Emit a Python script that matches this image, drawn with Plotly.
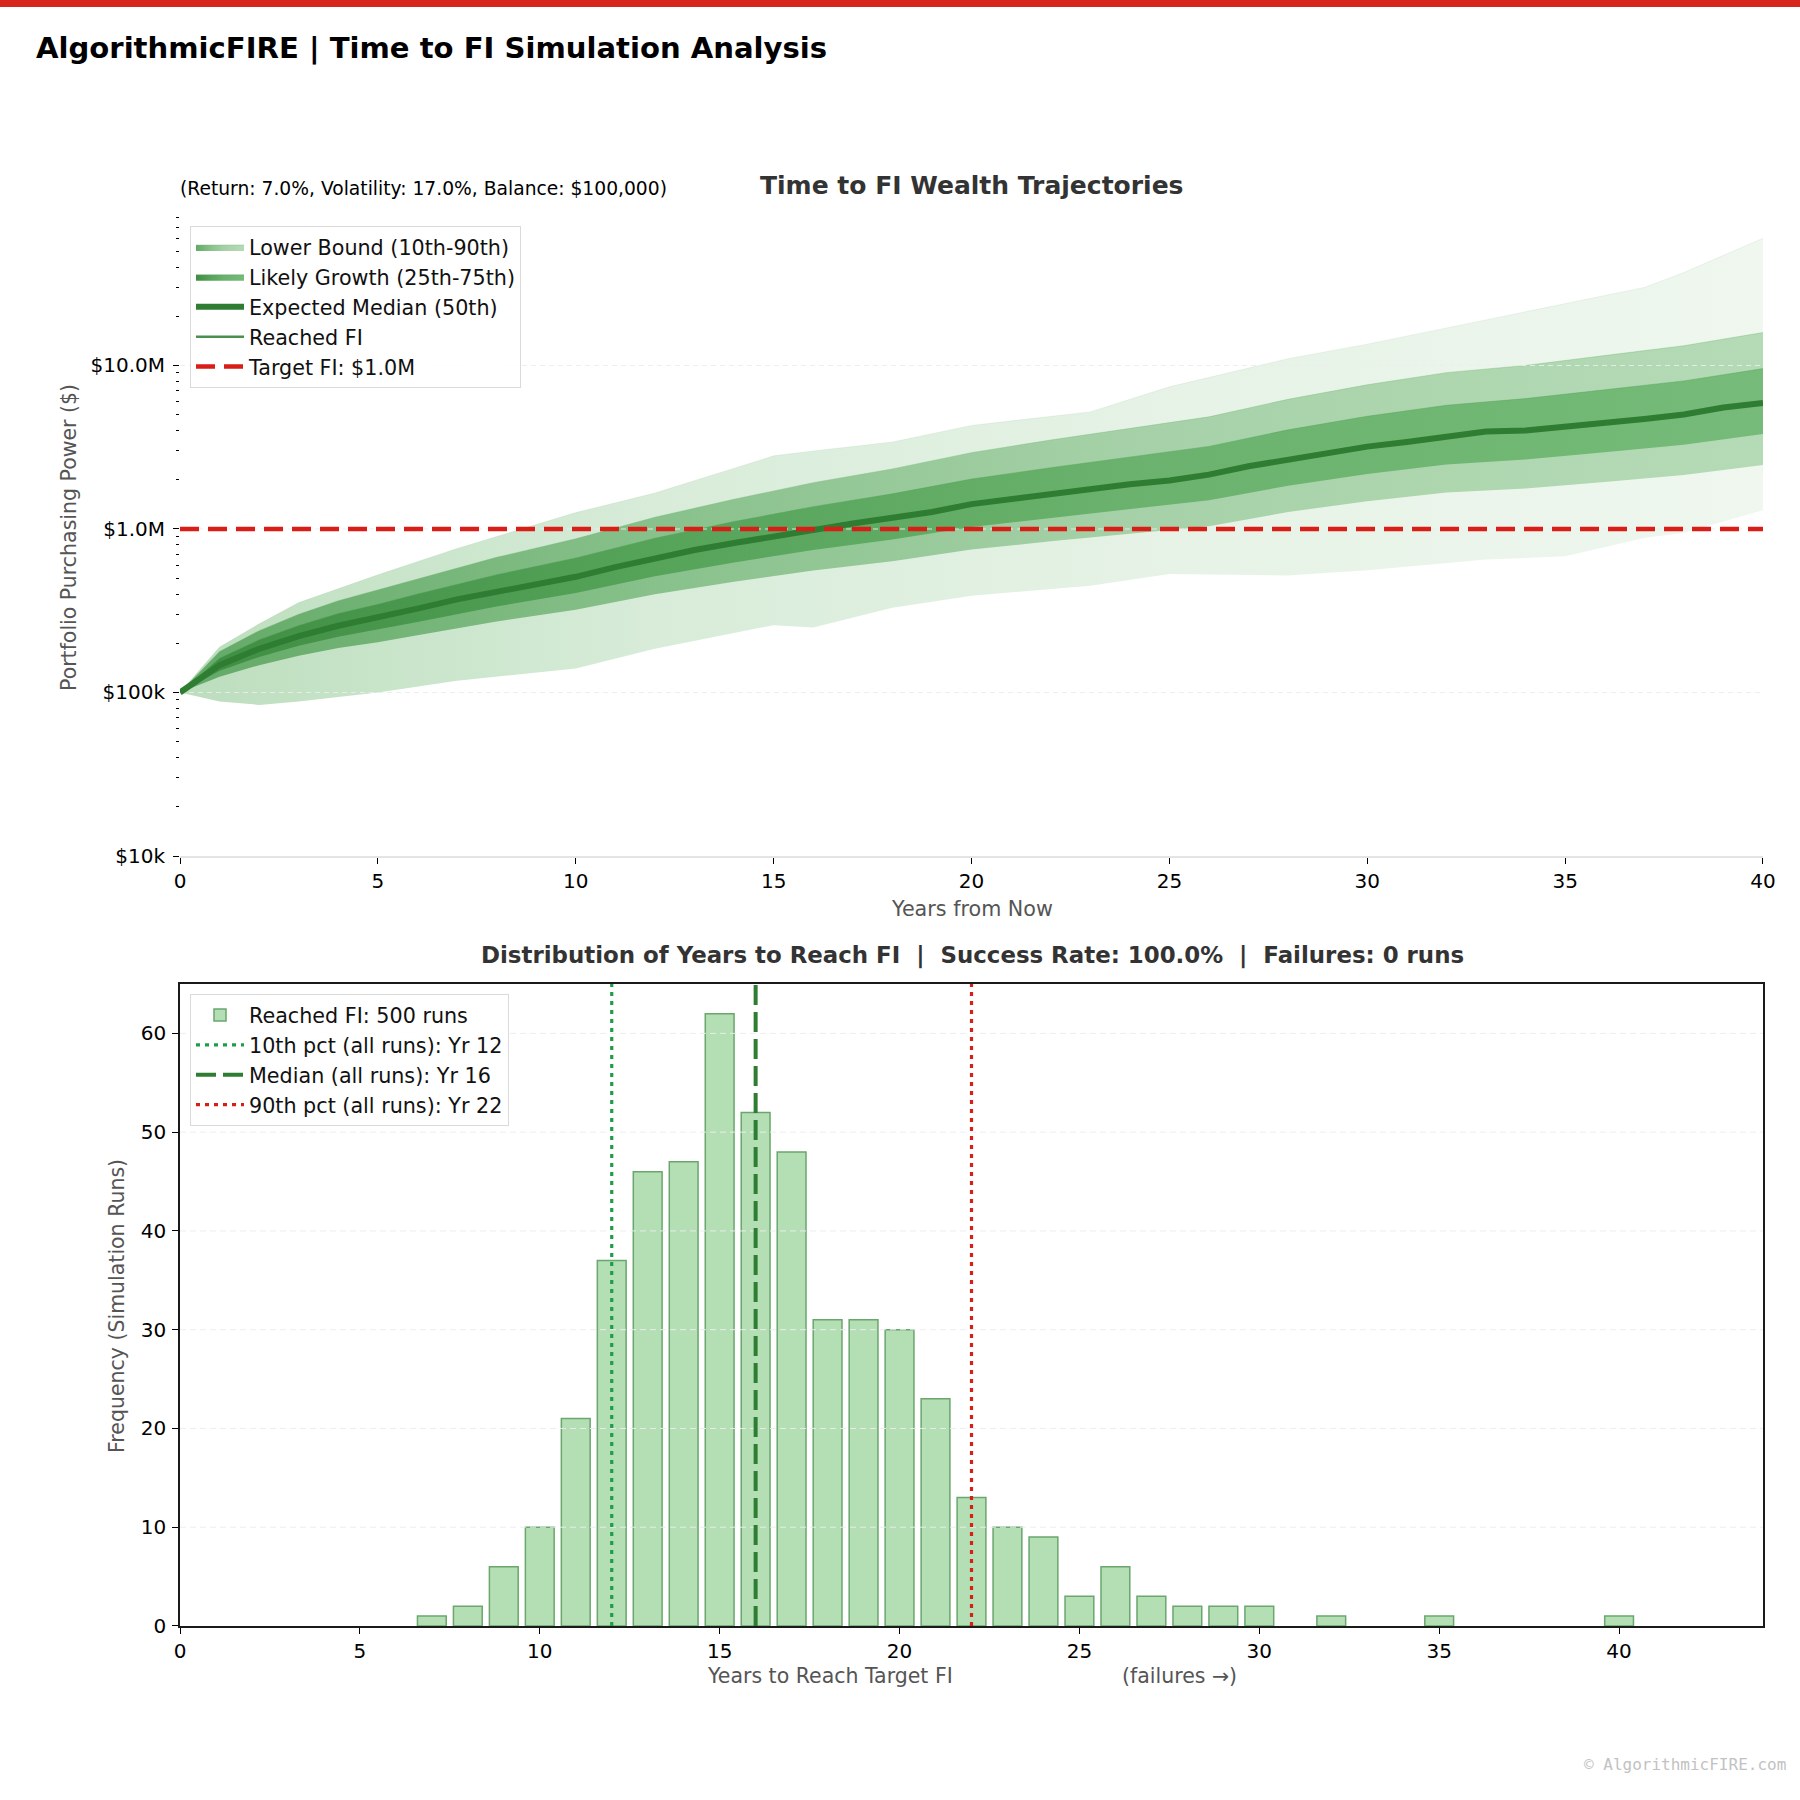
import plotly.graph_objects as go

# ----------------------------- data -----------------------------
# Wealth trajectories
years = list(range(0, 41))
median_path = [100000, 147000, 185000, 221000, 256000, 287000, 326000, 371000, 415000, 465000,
               510000, 584000, 664000, 744000, 820000, 904000, 996000, 1080000, 1170000, 1270000,
               1420000, 1530000, 1640000, 1760000, 1880000, 1980000, 2150000, 2420000, 2670000, 2940000,
               3190000, 3400000, 3690000, 3940000, 4000000, 4200000, 4480000, 4700000, 5020000, 5530000,
               5900000]

band_years = [0, 1, 2, 3, 4, 5, 6, 8, 10, 12, 14, 16, 18, 20, 22, 24, 26, 28, 30, 32, 34, 36, 38, 40]
p10 = [100000, 125000, 147000, 168000, 187000, 203000, 224000, 272000, 321000, 399000, 475000, 557000,
       635000, 748000, 841000, 938000, 1040000, 1270000, 1480000, 1670000, 1770000, 1940000, 2140000, 2460000]
p25 = [100000, 136000, 165000, 193000, 219000, 242000, 270000, 336000, 406000, 514000, 624000, 745000,
       861000, 1030000, 1170000, 1330000, 1500000, 1840000, 2170000, 2480000, 2660000, 2950000, 3270000, 3810000]
p75 = [100000, 162000, 210000, 257000, 304000, 346000, 400000, 525000, 665000, 879000, 1110000, 1370000,
       1640000, 2020000, 2370000, 2760000, 3200000, 4040000, 4890000, 5710000, 6270000, 7100000, 8050000, 9570000]
p90 = [100000, 178000, 239000, 301000, 364000, 423000, 497000, 671000, 871000, 1180000, 1520000, 1920000,
       2330000, 2930000, 3500000, 4130000, 4850000, 6210000, 7620000, 9040000, 10000000, 11500000, 13200000, 15900000]

# outer extent of the individual simulation runs
env_years = [0, 1, 2, 3, 5, 7, 10, 12, 15, 16, 18, 20, 23, 25, 28, 30, 33, 35, 37, 38, 40]
env_high = [100000, 190000, 263000, 355000, 525000, 760000, 1260000, 1660000, 2800000, 3000000, 3400000,
            4300000, 5200000, 7400000, 11000000, 13500000, 19000000, 24000000, 30000000, 37000000, 60000000]
env_low = [100000, 88000, 84000, 88000, 100000, 118000, 140000, 185000, 258000, 250000, 330000,
           390000, 450000, 530000, 520000, 560000, 650000, 680000, 880000, 950000, 1300000]

target_fi = 1_000_000
horizon = 40

wealth_tickvals = [1e4, 1e5, 1e6, 1e7]
wealth_ticktext = ["$10k", "$100k", "$1.0M", "$10.0M"]

# Years-to-FI histogram
fi_years = [7, 8, 9, 10, 11, 12, 13, 14, 15, 16, 17, 18, 19, 20, 21, 22, 23, 24, 25, 26, 27, 28, 29, 30, 32, 35, 40]
fi_counts = [1, 2, 6, 10, 21, 37, 46, 47, 62, 52, 48, 31, 31, 30, 23, 13, 10, 9, 3, 6, 3, 2, 2, 2, 1, 1, 1]
failures = 0
pct10_year, pct50_year, pct90_year = 12, 16, 22
hist_x_max = 44
hist_y_max = 65
hist_yticks = [0, 10, 20, 30, 40, 50, 60]

# ----------------------------- styling -----------------------------
FONT = "DejaVu Sans"
DARK_GREEN = "#2e7d32"
RED = "#d81e16"

fig = go.Figure()

# --- top: fan chart ---
fig.add_trace(go.Scatter(x=env_years, y=env_low, mode="lines", line=dict(width=0),
                         showlegend=False, hoverinfo="skip", xaxis="x", yaxis="y"))
fig.add_trace(go.Scatter(x=env_years, y=env_high, mode="lines", line=dict(width=0.6, color="rgba(120,170,120,0.2)"),
                         fill="tonexty", fillcolor="#e6f2e6",
                         fillgradient=dict(type="horizontal",
                                           colorscale=[[0, "#bcdebd"], [0.3, "#d8ecd9"], [0.65, "#e7f3e7"], [1, "#eff7ef"]]),
                         showlegend=False, hoverinfo="skip", xaxis="x", yaxis="y"))
fig.add_trace(go.Scatter(x=band_years, y=p10, mode="lines", line=dict(width=0),
                         showlegend=False, hoverinfo="skip", xaxis="x", yaxis="y"))
fig.add_trace(go.Scatter(x=band_years, y=p90, mode="lines", line=dict(width=0.8, color="rgba(110,180,112,0.45)"),
                         fill="tonexty", fillcolor="#b0d8b1",
                         fillgradient=dict(type="horizontal",
                                           colorscale=[[0, "#62a966"], [0.3, "#88c18b"], [0.6, "#a6d1a8"], [1, "#b5dbb6"]]),
                         name="Lower Bound (10th-90th)", legend="legend", xaxis="x", yaxis="y"))
fig.add_trace(go.Scatter(x=band_years, y=p25, mode="lines", line=dict(width=0),
                         showlegend=False, hoverinfo="skip", xaxis="x", yaxis="y"))
fig.add_trace(go.Scatter(x=band_years, y=p75, mode="lines", line=dict(width=0.8, color="rgba(80,160,85,0.5)"),
                         fill="tonexty", fillcolor="#72b975",
                         fillgradient=dict(type="horizontal",
                                           colorscale=[[0, "#3e8d43"], [0.3, "#56a35a"], [0.6, "#6ab26d"], [1, "#76bb79"]]),
                         name="Likely Growth (25th-75th)", legend="legend", xaxis="x", yaxis="y"))
for v in wealth_tickvals[1:]:
    fig.add_trace(go.Scatter(x=[0, horizon], y=[v, v], mode="lines",
                             line=dict(color="rgba(236,236,236,0.9)", width=1, dash="5px,4px"),
                             showlegend=False, hoverinfo="skip", xaxis="x", yaxis="y"))
fig.add_trace(go.Scatter(x=years, y=median_path, mode="lines", line=dict(color=DARK_GREEN, width=6),
                         name="Expected Median (50th)", legend="legend", xaxis="x", yaxis="y"))
fig.add_trace(go.Scatter(x=[None], y=[None], mode="lines", line=dict(color="#4a8f4e", width=2.5),
                         name="Reached FI", legend="legend", xaxis="x", yaxis="y"))
fig.add_trace(go.Scatter(x=[0, horizon], y=[target_fi, target_fi], mode="lines",
                         line=dict(color=RED, width=4.5, dash="19px,9px"),
                         name=f"Target FI: ${target_fi/1e6:.1f}M", legend="legend", xaxis="x", yaxis="y"))

# --- bottom: histogram ---
total_reached = sum(fi_counts)
total_runs = total_reached + failures
fig.add_trace(go.Bar(x=fi_years, y=fi_counts, width=0.8,
                     marker=dict(color="#b4dfb5", line=dict(color="#6aa66d", width=1.5)),
                     name=f"Reached FI: {total_reached} runs", legend="legend2", xaxis="x2", yaxis="y2"))
for v in hist_yticks[1:]:
    fig.add_trace(go.Scatter(x=[0, hist_x_max], y=[v, v], mode="lines",
                             line=dict(color="rgba(236,236,236,0.95)", width=1, dash="6px,4px"),
                             showlegend=False, hoverinfo="skip", xaxis="x2", yaxis="y2"))
fig.add_trace(go.Scatter(x=[pct10_year, pct10_year], y=[0, hist_y_max], mode="lines",
                         line=dict(color="#1e9e4a", width=3.2, dash="4px,5px"),
                         name=f"10th pct (all runs): Yr {pct10_year}", legend="legend2", xaxis="x2", yaxis="y2"))
fig.add_trace(go.Scatter(x=[pct50_year, pct50_year], y=[0, hist_y_max], mode="lines",
                         line=dict(color=DARK_GREEN, width=4, dash="20px,7px"),
                         name=f"Median (all runs): Yr {pct50_year}", legend="legend2", xaxis="x2", yaxis="y2"))
fig.add_trace(go.Scatter(x=[pct90_year, pct90_year], y=[0, hist_y_max], mode="lines",
                         line=dict(color=RED, width=3.2, dash="4px,5px"),
                         name=f"90th pct (all runs): Yr {pct90_year}", legend="legend2", xaxis="x2", yaxis="y2"))

# ----------------------------- layout -----------------------------
minor_vals = [k * 10 ** e for e in range(4, 8) for k in range(2, 10)]
tickfont = dict(family=FONT, size=20, color="#000")
legend_common = dict(xanchor="left", yanchor="top", bgcolor="rgba(255,255,255,0.88)",
                     bordercolor="#dadada", borderwidth=1, traceorder="normal",
                     font=dict(family=FONT, size=20.7, color="#111"), itemwidth=48, tracegroupgap=0)

success_rate = 100.0 * total_reached / total_runs
annotations = [
    dict(text="<b>AlgorithmicFIRE | Time to FI Simulation Analysis</b>", x=34 / 1800, y=1 - 48 / 1800,
         xanchor="left", yanchor="middle", font=dict(family=FONT, size=29.1, color="#000")),
    dict(text="<b>Time to FI Wealth Trajectories</b>", x=972 / 1800, y=1 - 186 / 1800,
         xanchor="center", yanchor="middle", font=dict(family=FONT, size=25, color="#333")),
    dict(text="(Return: 7.0%, Volatility: 17.0%, Balance: $100,000)", x=178 / 1800, y=1 - 188 / 1800,
         xanchor="left", yanchor="middle", font=dict(family=FONT, size=18.7, color="#000")),
    dict(text="Years from Now", x=972 / 1800, y=1 - 909 / 1800, xanchor="center", yanchor="middle",
         font=dict(family=FONT, size=20.7, color="#555")),
    dict(text="Portfolio Purchasing Power ($)", x=69 / 1800, y=1 - 538 / 1800, textangle=-90,
         xanchor="center", yanchor="middle", font=dict(family=FONT, size=20.5, color="#555")),
    dict(text=f"<b>Distribution of Years to Reach FI  |  Success Rate: {success_rate:.1f}%  |  Failures: {failures} runs</b>",
         x=972 / 1800, y=1 - 955 / 1800, xanchor="center", yanchor="middle",
         font=dict(family=FONT, size=22.9, color="#333")),
    dict(text="Frequency (Simulation Runs)", x=117 / 1800, y=1 - 1306 / 1800, textangle=-90,
         xanchor="center", yanchor="middle", font=dict(family=FONT, size=20.5, color="#555")),
    dict(text="Years to Reach Target FI", x=830 / 1800, y=1 - 1676 / 1800, xanchor="center", yanchor="middle",
         font=dict(family=FONT, size=20.5, color="#555")),
    dict(text="(failures →)", x=1179 / 1800, y=1 - 1676 / 1800, xanchor="center", yanchor="middle",
         font=dict(family=FONT, size=20.5, color="#555")),
    dict(text="© AlgorithmicFIRE.com", x=1788 / 1800, y=1 - 1764 / 1800, xanchor="right", yanchor="middle",
         font=dict(family="DejaVu Sans Mono", size=16, color="#c2c2c2")),
]
for a in annotations:
    a.update(xref="paper", yref="paper", showarrow=False)

fig.update_layout(
    template="none",
    width=1800, height=1800,
    margin=dict(l=0, r=0, t=0, b=0),
    paper_bgcolor="white", plot_bgcolor="white",
    font=dict(family=FONT, color="#000"),
    barmode="overlay",
    xaxis=dict(domain=[0.1, 0.97944], anchor="y", range=[0, horizon], tickmode="linear", tick0=0, dtick=5,
               ticks="outside", ticklen=6, tickwidth=1.2, tickcolor="#000", showline=True,
               linecolor="#e4e4e4", linewidth=2, showgrid=False, zeroline=False, tickfont=tickfont,
               automargin=False),
    yaxis=dict(domain=[0.52444, 0.88144], anchor="x", type="log", range=[4, 7.93],
               tickmode="array", tickvals=wealth_tickvals, ticktext=wealth_ticktext,
               ticks="outside", ticklen=6, tickwidth=1.2, tickcolor="#000", showline=False,
               showgrid=False, zeroline=False, tickfont=tickfont, automargin=False, ticklabelstandoff=4,
               minor=dict(tickmode="array", tickvals=minor_vals, ticks="outside", ticklen=3.5,
                          tickwidth=1, tickcolor="#000", showgrid=False)),
    xaxis2=dict(domain=[0.1, 0.97944], anchor="y2", range=[0, hist_x_max], tickmode="linear", tick0=0, dtick=5,
                ticks="outside", ticklen=6, tickwidth=1.2, tickcolor="#000", showline=True, mirror=True,
                linecolor="#1a1a1a", linewidth=1.6, showgrid=False, zeroline=False, tickfont=tickfont,
                automargin=False),
    yaxis2=dict(domain=[0.09667, 0.45333], anchor="x2", range=[0, hist_y_max], tickmode="array",
                tickvals=hist_yticks, ticks="outside", ticklen=6, tickwidth=1.2, tickcolor="#000",
                showline=True, mirror=True, linecolor="#1a1a1a", linewidth=1.6, showgrid=False,
                zeroline=False, tickfont=tickfont, automargin=False, ticklabelstandoff=2),
    legend=dict(x=190 / 1800, y=1 - 226 / 1800, **legend_common),
    legend2=dict(x=190 / 1800, y=1 - 994 / 1800, **legend_common),
    annotations=annotations,
    shapes=[dict(type="rect", xref="paper", yref="paper", x0=0, x1=1, y0=1 - 7 / 1800, y1=1,
                 fillcolor="#d7261e", line=dict(width=0), layer="above")],
)

fig.write_html("out.html")
